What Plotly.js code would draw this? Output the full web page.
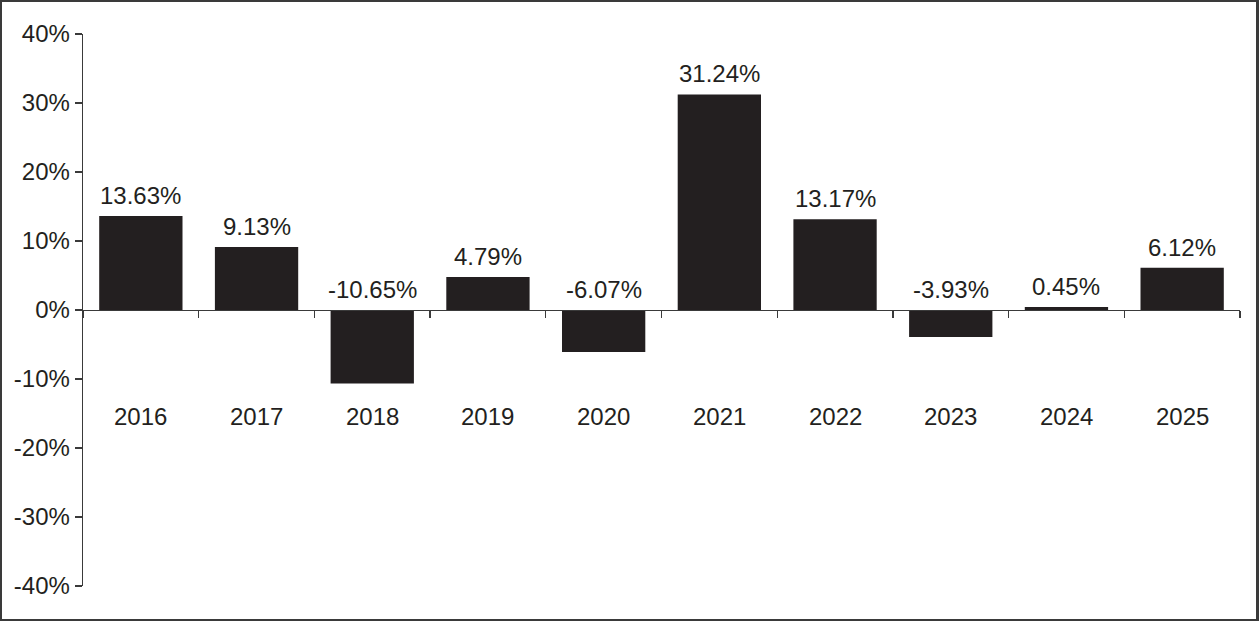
<!DOCTYPE html>
<html>
<head>
<meta charset="utf-8">
<script src="https://cdn.plot.ly/plotly-3.0.1.min.js"></script>
<style>
  html, body { margin: 0; padding: 0; background: #fff; }
  #wrap { position: relative; width: 1259px; height: 621px; }
  #chart { width: 1259px; height: 621px; }
  #frame { position: absolute; left: 0; top: 0; width: 1259px; height: 621px; box-sizing: border-box; border: 2px solid #3a3a3a; border-right-width: 3px; pointer-events: none; }
</style>
</head>
<body>
<div id="wrap"><div id="chart"></div><div id="frame"></div></div>
<script>
const years = ["2016", "2017", "2018", "2019", "2020", "2021", "2022", "2023", "2024", "2025"];
const returns = [13.63, 9.13, -10.65, 4.79, -6.07, 31.24, 13.17, -3.93, 0.45, 6.12];
const yTickVals = [-40, -30, -20, -10, 0, 10, 20, 30, 40];
const yTickText = ["-40%", "-30%", "-20%", "-10%", "0%", "10%", "20%", "30%", "40%"];

const ink = "#231f20";
const fontFam = "Liberation Sans, Arial, Helvetica, sans-serif";

const valueLabels = years.map((yr, i) => ({
  x: i, y: Math.max(returns[i], 0), xref: "x", yref: "y",
  text: returns[i].toFixed(2) + "%", showarrow: false,
  yanchor: "bottom", yshift: 5,
  font: { family: fontFam, size: 24, color: ink }
}));
const yearLabels = years.map((yr, i) => ({
  x: i, y: -15.5, xref: "x", yref: "y",
  text: yr, showarrow: false, yanchor: "middle",
  font: { family: fontFam, size: 24, color: ink }
}));

const trace = {
  type: "bar", x: years, y: returns,
  marker: { color: ink, line: { width: 0 } },
  hoverinfo: "skip"
};

const layout = {
  width: 1259, height: 621,
  margin: { l: 83, r: 19, t: 34, b: 35 },
  paper_bgcolor: "#fff", plot_bgcolor: "#fff",
  showlegend: false,
  bargap: 0.28,
  font: { family: fontFam, size: 24, color: ink },
  xaxis: {
    type: "category", categoryorder: "array", categoryarray: years,
    range: [-0.5, years.length - 0.5],
    anchor: "free", position: 0.5,
    showline: true, linecolor: "#3a3a3a", linewidth: 1.3,
    ticks: "outside", tickson: "boundaries", ticklen: 7, tickcolor: "#3a3a3a", tickwidth: 1.3,
    showticklabels: false, showgrid: false, zeroline: false
  },
  yaxis: {
    anchor: "x",
    range: [-40, 40], tickvals: yTickVals, ticktext: yTickText,
    showline: true, linecolor: "#3a3a3a", linewidth: 1.3,
    ticks: "outside", ticklen: 7, tickcolor: "#3a3a3a", tickwidth: 1.3,
    showgrid: false, zeroline: false,
    tickfont: { family: fontFam, size: 24, color: ink }
  },
  annotations: valueLabels.concat(yearLabels)
};

Plotly.newPlot("chart", [trace], layout, { displayModeBar: false, staticPlot: true });
</script>
</body>
</html>
